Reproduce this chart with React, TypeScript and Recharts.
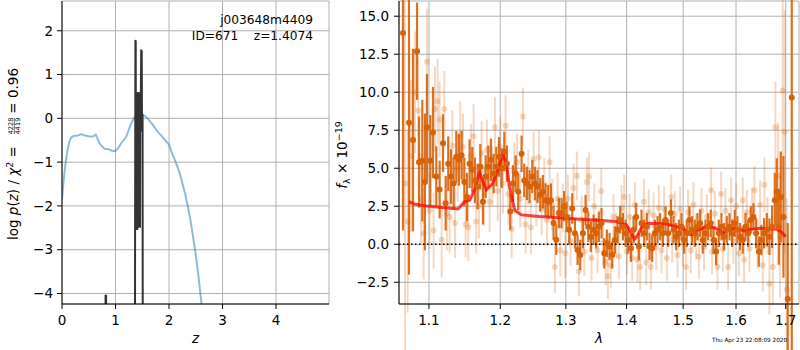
import React from 'react';
import {
  ComposedChart,
  Line,
  Scatter,
  XAxis,
  YAxis,
  CartesianGrid,
  ReferenceLine,
  ErrorBar,
} from 'recharts';

const FONT = 'DejaVu Sans';
const ORANGE = '#d86208';

// ---------- left panel: redshift PDF ----------
const zChi2 = [0, 0.02, 0.05, 0.08, 0.11, 0.14, 0.17, 0.22, 0.27, 0.32, 0.36, 0.40, 0.45, 0.50, 0.55, 0.60, 0.63, 0.66, 0.70, 0.75, 0.80, 0.85, 0.90, 0.95, 1.00, 1.05, 1.10, 1.15, 1.20, 1.25, 1.30, 1.35, 1.40, 1.45, 1.50, 1.55, 1.60, 1.65, 1.70, 1.75, 1.80, 1.85, 1.90, 1.95, 2.00, 2.05, 2.10, 2.15, 2.20, 2.25, 2.30, 2.35, 2.40, 2.45, 2.50, 2.55, 2.60, 2.65, 2.70];
const logpChi2 = [-1.86, -1.55, -1.2, -0.9, -0.68, -0.52, -0.44, -0.40, -0.40, -0.38, -0.36, -0.38, -0.40, -0.41, -0.42, -0.40, -0.37, -0.45, -0.57, -0.64, -0.70, -0.70, -0.72, -0.75, -0.74, -0.68, -0.58, -0.50, -0.42, -0.26, -0.10, 0.02, 0.08, 0.10, 0.09, 0.05, 0.0, -0.08, -0.15, -0.24, -0.32, -0.39, -0.46, -0.53, -0.60, -0.78, -0.92, -1.08, -1.25, -1.48, -1.72, -2.00, -2.32, -2.70, -3.12, -3.60, -4.15, -4.75, -5.4];

const zPdf = [0.80, 0.812, 0.814, 0.824, 0.826, 1.360, 1.366, 1.372, 1.378, 1.382, 1.386, 1.390, 1.394, 1.398, 1.402, 1.406, 1.410, 1.414, 1.418, 1.422, 1.426, 1.430, 1.434, 1.438, 1.442, 1.446, 1.452, 1.458, 1.462, 1.468, 1.474, 1.480, 1.486, 1.490, 1.496, 1.502, 1.506, 1.512, 1.53];
const logpPdf = [-10, -10, -4.05, -4.05, -10, -10, -2.55, 1.79, 1.75, -2.5, 0.55, -2.55, 0.6, -2.5, 0.58, -2.55, 0.5, -2.4, 0.58, -2.5, 0.55, -2.5, 0.6, -2.3, 0.57, -0.3, 0.5, -2.5, 0.5, -0.3, 0.55, 1.57, 1.2, 1.55, -0.3, 0.1, 0.05, -10, -10];

const zTicks = [0, 1, 2, 3, 4];
const logpTicks = [-4, -3, -2, -1, 0, 1, 2];

// ---------- right panel: spectrum ----------
const waveDark = [
  1.0657, 1.0735, 1.0788, 1.0841, 1.0867, 1.0911, 1.0946, 1.0973, 1.1018, 1.1054,
  1.1099, 1.1144, 1.1190, 1.1226, 1.1262, 1.1299, 1.1336, 1.1373, 1.1410, 1.1447,
  1.1485, 1.1522, 1.1559, 1.1597, 1.1634, 1.1672, 1.1711, 1.1749, 1.1787, 1.1826,
  1.1864, 1.1903, 1.1942, 1.1981, 1.2020, 1.2059, 1.2098, 1.2147, 1.2187, 1.2227,
  1.2266, 1.2316, 1.2356, 1.2396, 1.2437, 1.2478, 1.2519, 1.2559, 1.2600, 1.2641,
  1.2682, 1.2723, 1.2765, 1.2806, 1.2848, 1.2890, 1.2931, 1.2973, 1.3011, 1.3053,
  1.3101, 1.3144, 1.3187, 1.3230, 1.3273, 1.3316, 1.3360, 1.3403, 1.3447, 1.3490,
  1.3534, 1.3578, 1.3623, 1.3667, 1.3711, 1.3756, 1.3801, 1.3846, 1.3891, 1.3937,
  1.3982, 1.4028, 1.4074, 1.4119, 1.4165, 1.4211, 1.4257, 1.4304, 1.4350, 1.4397,
  1.4444, 1.4491, 1.4539, 1.4586, 1.4634, 1.4681, 1.4729, 1.4777, 1.4825, 1.4873,
  1.4922, 1.4970, 1.5018, 1.5067, 1.5116, 1.5165, 1.5215, 1.5265, 1.5315, 1.5364,
  1.5414, 1.5465, 1.5515, 1.5566, 1.5616, 1.5667, 1.5718, 1.5770, 1.5821, 1.5873,
  1.5924, 1.5976, 1.6028, 1.6080, 1.6133, 1.6185, 1.6238, 1.6291, 1.6344, 1.6397,
  1.6451, 1.6504, 1.6558, 1.6612, 1.6666, 1.6720, 1.6775, 1.6816, 1.6857, 1.6898,
  1.6953, 1.7042, 1.7126,
];
const fluxDark = [
  13.9, 8.0, 6.85, 12.7, 5.4, 5.5, 4.1, 7.7, 5.5, 7.35,
  4.45, 3.6, 6.65, 2.7, 5.3, 4.45, 4.0, 5.75, 5.55, 5.85,
  4.1, 3.1, 5.3, 4.9, 4.2, 3.8, 5.1, 2.8, 4.45, 5.1,
  5.55, 4.65, 5.1, 5.75, 5.0, 6.1, 5.3, 2.15, 4.0, 4.65,
  3.45, 5.95, 4.2, 4.0, 3.8, 4.45, 4.0, 3.8, 3.25, 3.45,
  2.9, 2.8, 2.9, 1.4, 0.3, 2.05, 2.05, 2.5, 1.8, 0.95,
  2.35, 0.72, -0.37, -0.7, 0.72, 2.25, 1.15, 0.5, 0.95, 0.72,
  1.15, 1.38, -0.6, 0.07, -0.15, -0.7, 0.28, 0.95, 1.6, 1.15,
  0.72, 0.28, -0.26, 0.95, 1.8, -0.15, 1.38, 0.72, 1.15, -0.15,
  -0.26, 0.72, 0.95, 1.15, 0.72, 1.6, 0.72, 2.05, 0.95, 0.5,
  0.72, 1.15, 0.28, 0.72, 1.6, 0.95, 0.72, 1.15, 1.38, 0.28,
  0.72, 1.15, 1.38, 0.28, -0.48, 0.72, 1.15, 0.5, 0.95, 1.15,
  0.72, 1.38, 0.95, 0.5, 0.28, 1.15, 0.72, 1.6, 1.8, 0.72,
  -0.48, 0.28, 0.72, 0.95, 0.5, 1.15, 2.9, 3.45, 1.15, 3.1,
  1.8, -3.6, 9.65,
];
const errDark = [
  13, 10, 6, 3.2, 3, 4, 4.5, 3.5, 3, 3,
  2.0, 1.9, 1.9, 1.8, 1.8, 1.8, 1.7, 1.7, 1.7, 1.6,
  1.6, 1.6, 1.6, 1.5, 1.5, 1.5, 1.5, 1.5, 1.4, 1.4,
  1.4, 1.3, 1.3, 1.3, 1.3, 1.3, 1.2, 1.2, 1.2, 1.2,
  1.2, 1.2, 1.1, 1.1, 1.1, 1.1, 1.1, 1.1, 1.1, 1.1,
  1.1, 1.1, 1.1, 1.1, 1.0, 1.0, 1.0, 1.0, 1.0, 1.0,
  1.0, 1.0, 1.0, 1.0, 1.0, 1.0, 1.0, 1.0, 1.0, 1.0,
  1.0, 1.0, 1.0, 0.9, 0.9, 0.9, 0.9, 0.9, 0.9, 0.9,
  0.9, 0.9, 0.9, 0.9, 0.9, 0.9, 0.9, 0.9, 0.9, 0.9,
  0.9, 0.9, 0.9, 0.9, 0.9, 0.9, 0.9, 0.9, 0.9, 0.9,
  0.9, 0.9, 0.9, 0.9, 0.9, 0.9, 0.9, 0.9, 0.9, 0.9,
  0.9, 0.9, 0.9, 0.9, 0.9, 0.9, 0.9, 0.9, 0.9, 0.9,
  0.9, 0.9, 0.9, 0.9, 0.9, 0.9, 0.9, 0.9, 0.9, 1.0,
  1.0, 1.0, 1.0, 1.1, 1.2, 1.4, 1.8, 2.2, 2.5, 3.0,
  4, 5, 20,
];

const waveLight = [
  1.0683, 1.0718, 1.0762, 1.0814, 1.0858, 1.0894, 1.0929, 1.0973, 1.1009, 1.1063,
  1.1081, 1.1117, 1.1144, 1.1172, 1.1208, 1.1244, 1.1281, 1.1318, 1.1355, 1.1392,
  1.1428, 1.1466, 1.1503, 1.1541, 1.1578, 1.1616, 1.1653, 1.1692, 1.1730, 1.1768,
  1.1807, 1.1845, 1.1884, 1.1923, 1.1962, 1.2000, 1.2039, 1.2078, 1.2118, 1.2167,
  1.2207, 1.2247, 1.2296, 1.2336, 1.2376, 1.2417, 1.2457, 1.2498, 1.2539, 1.2580,
  1.2621, 1.2662, 1.2703, 1.2744, 1.2786, 1.2827, 1.2869, 1.2911, 1.2952, 1.2990,
  1.3032, 1.3075, 1.3122, 1.3176, 1.3208, 1.3251, 1.3295, 1.3338, 1.3371, 1.3414,
  1.3458, 1.3512, 1.3573, 1.3601, 1.3645, 1.3683, 1.3733, 1.3778, 1.3823, 1.3868,
  1.3914, 1.3959, 1.4005, 1.4051, 1.4096, 1.4142, 1.4188, 1.4234, 1.4298, 1.4339,
  1.4386, 1.4421, 1.4468, 1.4515, 1.4562, 1.4610, 1.4657, 1.4705, 1.4783, 1.4801,
  1.4849, 1.4897, 1.4946, 1.4994, 1.5055, 1.5091, 1.5141, 1.5190, 1.5240, 1.5290,
  1.5339, 1.5389, 1.5440, 1.5521, 1.5540, 1.5591, 1.5642, 1.5712, 1.5744, 1.5795,
  1.5847, 1.5905, 1.5950, 1.6002, 1.6054, 1.6133, 1.6159, 1.6212, 1.6265, 1.6318,
  1.6364, 1.6424, 1.6477, 1.6531, 1.6565, 1.6626, 1.6666, 1.6734, 1.6788, 1.6843,
  1.6884, 1.6939, 1.6980, 1.7021,
];
const fluxLight = [
  4.0, 1.5, 5.8, 10.0, 8.8, 3.0, 0.7, 12.0, 2.2, 0.9,
  8.9, 9.4, 8.2, 0.3, 8.9, 2.0, 1.8, 6.5, 1.4, 5.0,
  7.2, 6.4, 1.3, 1.1, 5.8, 7.1, 1.5, 2.5, 6.0, 3.2,
  6.2, 2.8, 4.5, 7.7, 3.5, 6.4, 4.0, 7.8, 3.3, 1.0,
  4.8, 5.4, 3.0, 8.4, 1.3, 4.4, 1.1, 5.6, 3.0, 5.7,
  2.4, 3.9, 1.6, 5.4, 2.6, -1.5, 3.0, -0.4, 2.4, -0.6,
  3.0, 0.2, 3.7, 4.5, -1.8, 1.6, -0.5, 4.1, 4.45, -0.9,
  2.5, -0.4, 3.5, 0.1, -1.2, -2.1, -1.4, 1.8, 0.6, -0.8,
  2.4, 3.1, -0.5, 1.8, -0.9, 2.6, -1.0, -1.5, 2.8, -1.2,
  2.1, -1.5, 1.9, -0.2, 2.4, -0.4, 2.3, -0.9, 3.1, 0.3,
  2.0, -0.7, 2.3, 0.0, -1.5, 2.1, -0.4, 2.6, 0.5, -0.8,
  2.2, -0.2, 1.8, 3.55, -0.5, 2.0, -1.5, 3.3, -0.3, 2.2,
  -1.5, 2.9, 0.2, 2.5, -0.6, 2.9, -1.0, 2.1, -0.3, 2.2,
  3.55, 0.0, 2.6, -1.4, 3.9, 1.2, -2.6, -1.5, 7.7, 4.5,
  0.5, 10.1, 7.4, -3.0,
];
const errLight = [
  12, 6, 5, 4, 3.5, 3, 3, 3.5, 2.5, 2.5,
  2.8, 2.8, 2.5, 2.5, 2.5, 2.4, 2.4, 2.3, 2.3, 2.2,
  2.2, 2.2, 2.2, 2.2, 2.1, 2.1, 2.1, 2.1, 2.1, 2.0,
  2.0, 2.0, 2.0, 2.0, 2.0, 2.0, 2.0, 2.0, 2.0, 1.9,
  1.9, 1.9, 1.9, 1.9, 1.9, 1.8, 1.8, 1.8, 1.8, 1.8,
  1.8, 1.8, 1.7, 1.7, 1.7, 1.7, 1.7, 1.7, 1.6, 1.6,
  1.6, 1.6, 1.6, 1.6, 1.6, 1.6, 1.6, 1.6, 1.6, 1.5,
  1.5, 1.5, 1.5, 1.5, 1.5, 1.5, 1.5, 1.5, 1.5, 1.5,
  1.5, 1.5, 1.5, 1.5, 1.5, 1.5, 1.5, 1.5, 1.5, 1.5,
  1.5, 1.5, 1.5, 1.5, 1.5, 1.5, 1.5, 1.5, 1.5, 1.5,
  1.5, 1.5, 1.5, 1.5, 1.5, 1.5, 1.5, 1.5, 1.5, 1.5,
  1.5, 1.5, 1.5, 1.5, 1.5, 1.5, 1.5, 1.5, 1.5, 1.5,
  1.5, 1.5, 1.5, 1.5, 1.5, 1.5, 1.5, 1.5, 1.5, 1.5,
  1.6, 1.6, 1.6, 1.7, 1.8, 1.9, 2.0, 2.5, 3.0, 3.5,
  4, 6, 8, 6,
];

const waveModel = [1.0735, 1.080, 1.0965, 1.1144, 1.1396, 1.149, 1.156, 1.163, 1.170, 1.1797, 1.189, 1.1966, 1.2038, 1.2089, 1.2137, 1.2212, 1.2312, 1.259, 1.30, 1.3435, 1.3824, 1.40, 1.408, 1.4135, 1.419, 1.428, 1.4397, 1.4693, 1.4874, 1.50, 1.5085, 1.5147, 1.524, 1.5428, 1.5585, 1.568, 1.5743, 1.584, 1.5936, 1.6067, 1.6166, 1.6265, 1.6464, 1.6803, 1.6908, 1.70];
const fluxModel = [2.8, 2.65, 2.52, 2.43, 2.32, 2.8, 2.9, 3.57, 4.73, 3.57, 4.0, 4.88, 5.93, 5.3, 3.79, 2.25, 1.93, 1.82, 1.71, 1.6, 1.49, 1.27, 0.72, 0.33, 0.61, 1.27, 1.38, 1.33, 1.16, 1.05, 0.72, 0.61, 0.88, 1.16, 1.09, 0.9, 0.72, 0.94, 1.05, 0.98, 0.88, 0.98, 1.05, 0.98, 0.83, 0.5];

const lamTicks = [1.1, 1.2, 1.3, 1.4, 1.5, 1.6, 1.7];
const fluxTicks = [-2.5, 0, 2.5, 5, 7.5, 10, 12.5, 15];

// ---------- build series ----------
const chi2Data = zChi2.map((x, i) => ({ x, y: logpChi2[i] }));
const pdfData = zPdf.map((x, i) => ({ x, y: logpPdf[i] }));
const darkData = waveDark.map((x, i) => ({ x, y: fluxDark[i], e: errDark[i] }));
const lightData = waveLight.map((x, i) => ({ x, y: fluxLight[i], e: errLight[i] }));
const modelData = waveModel.map((x, i) => ({ x, y: fluxModel[i] }));

const minus = (s: string) => s.replace('-', '\u2212');
const tickStyle = { fill: '#000', fontSize: 13.5, fontFamily: FONT };
const axisLine = { stroke: '#000', strokeWidth: 1 };

const DarkDot = (p: any) => <circle cx={p.cx} cy={p.cy} r={3} fill={ORANGE} />;
const LightDot = (p: any) => <circle cx={p.cx} cy={p.cy} r={3} fill={ORANGE} fillOpacity={0.25} />;

export default function App() {
  return (
    <div style={{ position: 'absolute', left: 0, top: 0, width: 800, height: 350, background: '#fff' }}>
      <div style={{ position: 'absolute', left: 0, top: 0 }}>
        <ComposedChart width={340} height={350} margin={{ top: 1, right: 11, bottom: 16, left: 0 }}>
          <CartesianGrid stroke="#b0b0b0" strokeWidth={1} />
          <XAxis dataKey="x" type="number" domain={[0, 4.99]} ticks={zTicks} allowDataOverflow
            tick={tickStyle} tickLine={{ stroke: '#000' }} axisLine={axisLine} tickSize={5} tickMargin={6} height={30}
            tickFormatter={(v: number) => String(v)} />
          <YAxis dataKey="y" type="number" domain={[-4.24, 2.68]} ticks={logpTicks} allowDataOverflow
            tick={tickStyle} tickLine={{ stroke: '#000' }} axisLine={axisLine} tickSize={5} tickMargin={4} width={62}
            tickFormatter={(v: number) => minus(String(v))} />
          <XAxis xAxisId="top" orientation="top" type="number" domain={[0, 1]} tick={false} tickLine={false} height={0} axisLine={axisLine} />
          <YAxis yAxisId="right" orientation="right" type="number" domain={[0, 1]} tick={false} tickLine={false} width={0} axisLine={axisLine} />
          <Line data={chi2Data} dataKey="y" stroke="#1f77b4" strokeOpacity={0.5} strokeWidth={2} dot={false} isAnimationActive={false} type="linear" />
          <Line data={pdfData} dataKey="y" stroke="#333" strokeWidth={2} dot={false} isAnimationActive={false} type="linear" />
        </ComposedChart>
      </div>
      <div style={{ position: 'absolute', left: 340, top: 0 }}>
        <ComposedChart width={460} height={350} margin={{ top: 1, right: 1, bottom: 16, left: 0 }}>
          <CartesianGrid stroke="#b0b0b0" strokeWidth={1} />
          <XAxis dataKey="x" type="number" scale="log" domain={[1.0605, 1.7278]} ticks={lamTicks} allowDataOverflow
            tick={tickStyle} tickLine={{ stroke: '#000' }} axisLine={axisLine} tickSize={5} tickMargin={6} height={30}
            tickFormatter={(v: number) => v.toFixed(1)} />
          <YAxis dataKey="y" type="number" domain={[-3.93, 16.0]} ticks={fluxTicks} allowDataOverflow
            tick={tickStyle} tickLine={{ stroke: '#000' }} axisLine={axisLine} tickSize={5} tickMargin={5} width={59}
            tickFormatter={(v: number) => minus(v.toFixed(1))} />
          <XAxis xAxisId="top" orientation="top" type="number" domain={[0, 1]} tick={false} tickLine={false} height={0} axisLine={axisLine} />
          <YAxis yAxisId="right" orientation="right" type="number" domain={[0, 1]} tick={false} tickLine={false} width={0} axisLine={axisLine} />
          <Scatter data={lightData} dataKey="y" shape={LightDot} isAnimationActive={false}>
            <ErrorBar dataKey="e" direction="y" width={0} stroke={ORANGE} strokeOpacity={0.25} strokeWidth={2} />
          </Scatter>
          <Scatter data={darkData} dataKey="y" shape={DarkDot} isAnimationActive={false}>
            <ErrorBar dataKey="e" direction="y" width={0} stroke={ORANGE} strokeOpacity={0.9} strokeWidth={2.2} />
          </Scatter>
          <Line data={modelData} dataKey="y" stroke="#ff0000" strokeOpacity={0.75} strokeWidth={3} dot={false} isAnimationActive={false} type="linear" />
          <ReferenceLine y={0} stroke="#000" strokeWidth={1.5} strokeDasharray="1.5 2.5" />
        </ComposedChart>
      </div>
      <svg width={800} height={350} style={{ position: 'absolute', left: 0, top: 0, pointerEvents: 'none' }} fontFamily={FONT}>
        <g transform="translate(18,154) rotate(-90)" style={{ whiteSpace: 'pre' }}>
          <text x={-86} y={0} fontSize={13.5} fill="#000">
            log <tspan fontStyle="italic">p</tspan>(<tspan fontStyle="italic">z</tspan>) / <tspan fontStyle="italic">χ</tspan>
            <tspan fontSize={9.5} dy={-5}>2</tspan><tspan dy={5}> =</tspan>
          </text>
          <text x={28} y={-4.8} fontSize={6.5} textAnchor="middle" fill="#000">4228</text>
          <line x1={20} x2={36} y1={-3.7} y2={-3.7} stroke="#000" strokeWidth={0.6} />
          <text x={28} y={2.2} fontSize={6.5} textAnchor="middle" fill="#000">4419</text>
          <text x={86} y={0} fontSize={13.5} textAnchor="end" fill="#000">= 0.96</text>
        </g>
        <g transform="translate(347,155) rotate(-90)" style={{ whiteSpace: 'pre' }}>
          <text x={0} y={0} fontSize={13.5} textAnchor="middle" fill="#000">
            <tspan fontStyle="italic">f</tspan><tspan fontSize={9.5} dy={3}>λ</tspan><tspan dy={-3}> × 10</tspan><tspan fontSize={9.5} dy={-5.5}>−19</tspan>
          </text>
        </g>
        <text x={195.5} y={343} fontSize={13.5} textAnchor="middle" fontStyle="italic" fill="#000">z</text>
        <text x={599} y={343} fontSize={13.5} textAnchor="middle" fontStyle="italic" fill="#000">λ</text>
        <text x={313} y={24} fontSize={12.2} textAnchor="end" fill="#000">j003648m4409</text>
        <text x={313} y={39.5} fontSize={12.2} textAnchor="end" fill="#000" style={{ whiteSpace: 'pre' }}>ID=671    z=1.4074</text>
        <text x={787} y={341.5} fontSize={5.7} textAnchor="end" fill="#000">Thu Apr 23 22:08:09 2020</text>
      </svg>
    </div>
  );
}
